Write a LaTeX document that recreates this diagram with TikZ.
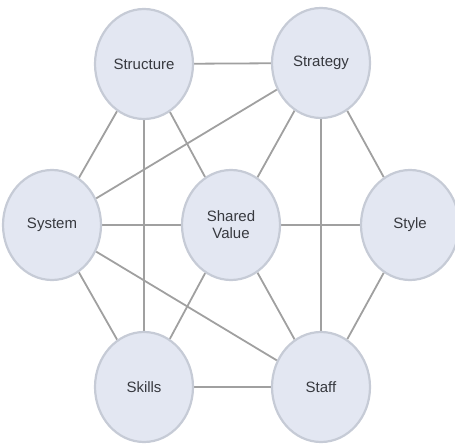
\documentclass[tikz,border=0pt]{standalone}
\usepackage{fontspec}
\setmainfont{Liberation Sans}
\usetikzlibrary{shapes.geometric,backgrounds}
\definecolor{cfill}{RGB}{227,231,242}
\definecolor{cborder}{RGB}{198,203,214}
\definecolor{cline}{RGB}{160,160,160}
\definecolor{ctext}{RGB}{55,57,63}
\tikzset{
  elem/.style={ellipse, draw=cborder, line width=2.2pt, fill=cfill, minimum width=98pt, minimum height=110pt, inner sep=0pt, text=ctext, font=\fontsize{15}{17}\selectfont, align=center},
  link/.style={draw=cline, line width=1.8pt}
}
\begin{document}
\begin{tikzpicture}[x=1pt,y=-1pt]
\useasboundingbox (0,0) rectangle (455,446);
% nodes
\node[elem] (structure) at (144,64) {Structure};
\node[elem] (strategy) at (321,63) {Strategy};
\node[elem] (system) at (52,225) {System};
\node[elem] (shared) at (231,225) {Shared\\Value};
\node[elem] (style) at (410,225) {Style};
\node[elem] (skills) at (144,387) {Skills};
\node[elem] (staff) at (321,387) {Staff};
% connectors
\begin{scope}[on background layer]
\draw[link] (structure) -- (strategy);
\draw[link] (structure) -- (system);
\draw[link] (structure) -- (skills);
\draw[link] (structure) -- (shared);
\draw[link] (strategy) -- (system);
\draw[link] (strategy) -- (shared);
\draw[link] (strategy) -- (staff);
\draw[link] (strategy) -- (style);
\draw[link] (system) -- (shared);
\draw[link] (shared) -- (style);
\draw[link] (system) -- (skills);
\draw[link] (system) -- (staff);
\draw[link] (shared) -- (skills);
\draw[link] (shared) -- (staff);
\draw[link] (style) -- (staff);
\draw[link] (skills) -- (staff);
\end{scope}
\end{tikzpicture}
\end{document}
